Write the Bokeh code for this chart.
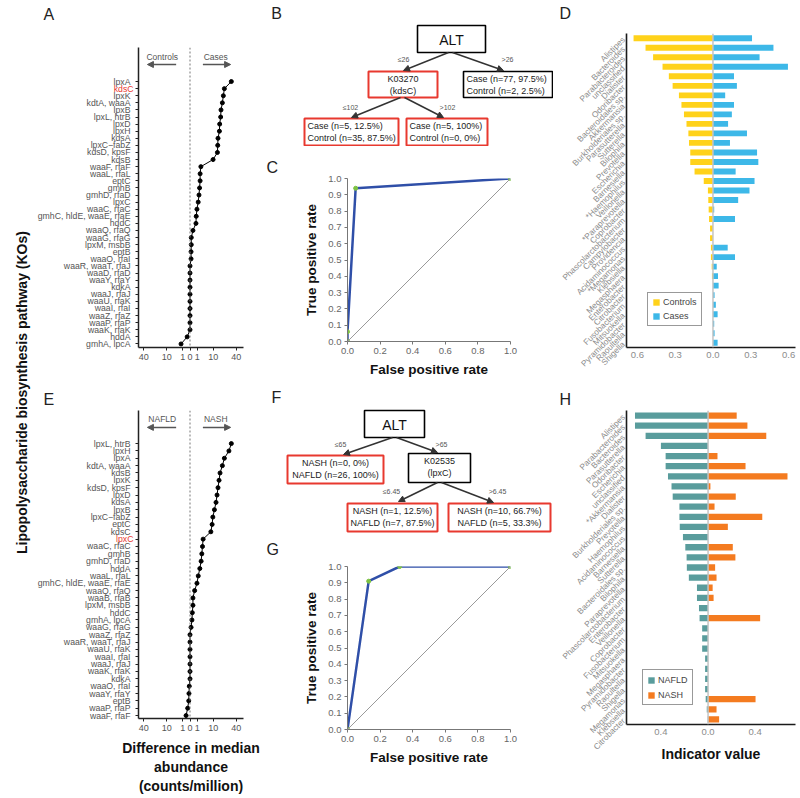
import numpy as np
from bokeh.plotting import figure
from bokeh.models import (Range1d, FixedTicker, CustomJSTickFormatter, NumeralTickFormatter,
                          Span, Label, Arrow, NormalHead, Legend, LegendItem, Slope, LinearAxis,
                          Title)
from bokeh.layouts import row, column
from bokeh.core.properties import value
from bokeh.embed import file_html
from bokeh.resources import INLINE

FONT = "Liberation Sans"
RED = "#E8392F"

# ------------------------------------------------------------------ data
A_kos = ["lpxA", "kdsC", "lpxK", "kdtA, waaA", "lpxB", "lpxL, htrB", "lpxD", "lpxH", "kdsA",
         "lpxC\u2212fabZ", "kdsD, kpsF", "kdsB", "waaF, rfaF", "waaL, rfaL", "eptC", "gmhB",
         "gmhD, rfaD", "lpxC", "waaC, rfaC", "gmhC, hldE, waaE, rfaE", "hddC", "waaQ, rfaQ",
         "waaG, rfaG", "lpxM, msbB", "eptB", "waaO, rfaI", "waaR, waaT, rfaJ", "waaD, rfaD",
         "waaY, rfaY", "kdkA", "waaJ, rfaJ", "waaU, rfaK", "waaI, rfaI", "waaZ, rfaZ",
         "waaP, rfaP", "waaK, rfaK", "hddA", "gmhA, lpcA"]
A_diff = [31.8, 22.0, 20.7, 19.5, 17.9, 17.5, 16.4, 16.1, 14.6, 14.3, 14.0, 9.9, 2.2, 1.9, 1.9,
          1.7, 1.5, 1.25, 0.9, 0.72, 0.66, 0.16, 0.03, 0.03, 0.02, 0.02, 0, 0, 0, 0, 0, 0, 0,
          0, 0, 0, -0.15, -1.5]
A_highlight = "kdsC"
A_groups = ["Controls", "Cases"]

E_kos = ["lpxL, htrB", "lpxH", "lpxA", "kdtA, waaA", "kdsB", "lpxK", "kdsD, kpsF", "lpxD", "kdsA",
         "lpxB", "lpxC\u2212fabZ", "eptC", "kdsC", "lpxC", "waaC, rfaC", "gmhB", "gmhD, rfaD",
         "hddA", "waaL, rfaL", "gmhC, hldE, waaE, rfaE", "waaQ, rfaQ", "waaB, rfaB",
         "lpxM, msbB", "hddC", "gmhA, lpcA", "waaG, rfaG", "waaZ, rfaZ", "waaR, waaT, rfaJ",
         "waaU, rfaK", "waaI, rfaI", "waaJ, rfaJ", "waaK, rfaK", "kdkA", "waaO, rfaI",
         "waaY, rfaY", "eptB", "waaP, rfaP", "waaF, rfaF"]
E_diff = [31.8, 28.2, 22.0, 19.5, 16.8, 15.7, 14.6, 13.6, 12.6, 11.1, 9.7, 9.1, 8.1, 3.2, 2.9,
          2.6, 2.3, 1.8, 1.26, 0.9, 0.4, 0.16, 0.16, 0.1, 0.07, 0.02, 0, 0, 0, 0, 0, 0, 0,
          -0.01, -0.02, -0.03, -0.1, -0.29]
E_highlight = "lpxC"
E_groups = ["NAFLD", "NASH"]

abund_tick_values = [-40, -10, -1, 0, 1, 10, 40]
abund_title = "Difference in median\nabundance\n(counts/million)"
ko_title = "Lipopolysaccharide biosynthesis pathway (KOs)"

D_genera = ["Alistipes", "Bacteroides", "Parabacteroides", "unclassified", "Dialister",
            "Odoribacter", "Bacteroidales sp.", "Akkermansia", "Burkholderiales sp.",
            "Parasutterella", "Sutterella", "Bilophila", "Prevotella", "Escherichia",
            "Barnesiella", "*Haemophilus", "Veillonella", "*Paraprevotella", "Coprobacter",
            "Phascolarctobacterium", "Campylobacter", "Providencia", "Acidaminococcus",
            "*Megamonas", "Klebsiella", "Megasphaera", "Enterobacter", "Citrobacter",
            "Fusobacterium", "Mitsuokella", "Pyramidobacter", "Raoultella", "Shigella"]
D_controls = [0.63, 0.535, 0.475, 0.40, 0.35, 0.32, 0.27, 0.25, 0.23, 0.21, 0.195, 0.19, 0.18,
              0.18, 0.146, 0.073, 0.04, 0.037, 0.034, 0.031, 0.023, 0.023, 0.016, 0.016, 0.01,
              0.008, 0, 0, 0, 0, 0, 0, 0]
D_cases = [0.31, 0.48, 0.37, 0.595, 0.167, 0.19, 0.097, 0.167, 0.15, 0.12, 0.27, 0.135, 0.35,
           0.36, 0.18, 0.33, 0.29, 0.2, 0.01, 0.175, 0, 0, 0.117, 0.175, 0.03, 0.04, 0.045,
           0.013, 0.023, 0.037, 0.01, 0.013, 0.037]

H_genera = ["Alistipes", "Parabacteroides", "Bacteroides", "Parasutterella", "Odoribacter",
            "Escherichia", "unclassified", "*Akkermansia", "Dialister", "Burkholderiales sp.",
            "Prevotella", "Haemophilus", "Acidaminococcus", "Barnesiella", "Sutterella",
            "Bacteroidales sp.", "Bilophila", "Paraprevotella", "Phascolarctobacterium",
            "Enterobacter", "Veillonella", "Coprobacter", "Fusobacterium", "Mitsuokella",
            "Megasphaera", "Pyramidobacter", "Raoultella", "Shigella", "Megamonas",
            "Klebsiella", "Citrobacter"]
H_nafld = [0.62, 0.62, 0.53, 0.40, 0.36, 0.36, 0.34, 0.31, 0.30, 0.243, 0.243, 0.24, 0.213,
           0.193, 0.182, 0.18, 0.163, 0.094, 0.094, 0.077, 0.072, 0.05, 0.05, 0.05, 0.025,
           0.025, 0.025, 0.025, 0.02, 0.011, 0.003]
H_nash = [0.243, 0.334, 0.494, 0, 0.08, 0.318, 0.674, 0.02, 0.235, 0.055, 0.46, 0.168, 0,
          0.21, 0.232, 0.06, 0.072, 0.039, 0.047, 0, 0.442, 0, 0, 0, 0, 0, 0, 0, 0.403,
          0.072, 0.094]

C_fpr = [0.0, 0.0, 0.05, 1.0]
C_tpr = [0.0, 0.06, 0.94, 1.0]
G_fpr = [0.0, 0.13, 0.32, 1.0]
G_tpr = [0.0, 0.91, 1.0, 1.0]

B_node_text = [["ALT"], ["K03270", "(kdsC)"], ["Case (n=77, 97.5%)", "Control (n=2, 2.5%)"],
               ["Case (n=5, 12.5%)", "Control (n=35, 87.5%)"],
               ["Case (n=5, 100%)", "Control (n=0, 0%)"]]
B_edge_text = ["\u226426", ">26", "\u2264102", ">102"]
F_node_text = [["ALT"], ["NASH (n=0, 0%)", "NAFLD (n=26, 100%)"], ["K02535", "(lpxC)"],
               ["NASH (n=1, 12.5%)", "NAFLD (n=7, 87.5%)"],
               ["NASH (n=10, 66.7%)", "NAFLD (n=5, 33.3%)"]]
F_edge_text = ["\u226465", ">65", "\u22646.45", ">6.45"]

# ------------------------------------------------------------------ layout (page px)
GEOM = {
    "T": dict(canvas=(0, 0, 34, 796)),
    "A": dict(canvas=(34, 0, 264, 375), frame=(137, 47, 243, 347)),
    "E": dict(canvas=(34, 375, 264, 796), frame=(137, 410, 243, 720)),
    "B": dict(canvas=(264, 0, 553, 146)),
    "C": dict(canvas=(264, 146, 553, 385), frame=(347, 178, 510, 341)),
    "F": dict(canvas=(264, 385, 553, 535)),
    "G": dict(canvas=(264, 535, 553, 796), frame=(347, 566, 510, 729)),
    "D": dict(canvas=(553, 0, 800, 375), frame=(623, 33, 795, 347)),
    "H": dict(canvas=(553, 375, 800, 796), frame=(623, 410, 795, 724)),
}
LETTERS = {"A": (47, 13), "B": (276, 13), "C": (276, 165), "D": (563, 12),
           "E": (47, 397), "F": (276, 397), "G": (276, 548), "H": (563, 397)}
# title-based letters: (horizontal correction, title standoff, spacer standoff)
LETTER_TUNE = {"A": (-5, 0, 22), "E": (-5, 6, None), "C": (-10, 6, None),
               "G": (-10, 0, 6), "D": (-7, 0, 9), "H": (-7, 6, None)}

B_LAYOUT = dict(
    boxes=[(417, 25, 485, 52, "black", "center"), (368, 71, 437, 97, RED, "center"),
           (463, 71, 552, 97, "black", "left"), (304, 118, 398, 145, RED, "left"),
           (406, 118, 487, 145, RED, "left")],
    edges=[(448, 52, 403, 70, 403, 59), (452, 52, 503, 70, 507, 59),
           (400, 97, 351, 117, 350, 107), (404, 97, 443, 117, 447, 107)])
F_LAYOUT = dict(
    boxes=[(364, 410, 424, 437, "black", "center"), (287, 455, 383, 483, RED, "center"),
           (408, 453, 470, 482, "black", "center"), (347, 503, 437, 531, RED, "center"),
           (448, 503, 550, 531, RED, "center")],
    edges=[(392, 437, 343, 454, 340, 444), (396, 437, 437, 452, 441, 444),
           (437, 482, 398, 501, 391, 491), (441, 482, 493, 502, 497, 491)])


def make_fig(key, xr, yr, axes=True, letter=None):
    g = GEOM[key]
    cl, ct, cr, cb = g["canvas"]
    fl, ft, fr, fb = g.get("frame", g["canvas"])
    kw = {} if axes else dict(x_axis_type=None, y_axis_type=None)
    p = figure(width=cr - cl, height=cb - ct, x_range=Range1d(*xr), y_range=Range1d(*yr),
               min_border_left=fl - cl, min_border_right=cr - fr, min_border_top=ft - ct,
               min_border_bottom=cb - fb, output_backend="svg", toolbar_location=None,
               frame_align=False, **kw)
    p.outline_line_color = None
    p.grid.visible = False
    p.background_fill_color = "white"
    p.border_fill_color = "white"
    if letter is not None:
        lx, ly = LETTERS[letter]
        dx, standoff, gap = LETTER_TUNE[letter]
        p.title.text = letter
        p.title.align = "left"
        p.title.offset = lx + dx - fl
        p.title.standoff = standoff
        p.title.text_font = FONT
        p.title.text_font_size = "16px"
        p.title.text_font_style = "normal"
        p.title.text_color = "#222222"
        if gap is not None:
            p.add_layout(Title(text=" ", text_font_size="1px", standoff=gap), "above")
    return p


def to_data(key, xr, yr, px, py):
    fl, ft, fr, fb = GEOM[key].get("frame", GEOM[key]["canvas"])
    x = xr[0] + (px - fl) / (fr - fl) * (xr[1] - xr[0])
    y = yr[0] + (fb - py) / (fb - ft) * (yr[1] - yr[0])
    return x, y


# ------------------------------------------------------------------ title column
pT = make_fig("T", (0, 34), (796, 0), axes=False)
pT.text(x=[21], y=[392], text=[ko_title], angle=np.pi / 2, text_font=value(FONT),
        text_font_size=value("14px"), text_font_style="bold", text_align="center",
        text_baseline="middle", text_color="#111111")


# ------------------------------------------------------------------ A / E
LABEL_PX = {"kdsC": 20, "lpxC": 17}


def ko_panel(key, letter, kos, diff, highlight, groups, xr, yr, xlabel):
    p = make_fig(key, xr, yr, letter=letter)
    xs = np.sign(diff) * np.sqrt(np.abs(diff))
    ys = np.arange(len(kos))
    p.add_layout(Span(location=0, dimension="height", line_dash="2 2", line_color="#777777",
                      line_width=1))
    p.line(xs, ys, line_color="black", line_width=1)
    p.scatter(xs, ys, size=4, color="black")

    ticks = FixedTicker(ticks=list(range(len(kos))))
    ya = p.yaxis[0]
    ya.ticker = ticks
    ya.major_label_overrides = {i: (k if k == highlight else "") for i, k in enumerate(kos)}
    ya.major_label_text_font = FONT
    ya.major_label_text_font_size = "8.7px"
    ya.major_label_text_color = RED
    ya.major_label_standoff = 2
    ya.major_tick_out = 3
    ya.major_tick_in = 0
    ya.minor_tick_line_color = None
    ya.axis_line_color = "#222222"
    ya.axis_line_width = 1.5
    ya.major_tick_line_color = "#222222"
    ya2 = LinearAxis(ticker=ticks,
                     major_label_overrides={i: (" " if k == highlight else k)
                                            for i, k in enumerate(kos)})
    ya2.major_label_text_font = FONT
    ya2.major_label_text_font_size = "8.7px"
    ya2.major_label_text_color = "#555555"
    ya2.major_label_standoff = -LABEL_PX[highlight]
    ya2.major_tick_out = 0
    ya2.major_tick_in = 0
    ya2.major_tick_line_color = None
    ya2.minor_tick_line_color = None
    ya2.axis_line_color = None
    p.add_layout(ya2, "left")

    xa = p.xaxis[0]
    tv = np.array(abund_tick_values, dtype=float)
    xa.ticker = FixedTicker(ticks=list(np.sign(tv) * np.sqrt(np.abs(tv))))
    xa.formatter = CustomJSTickFormatter(code="return String(Math.round(tick*tick));")
    xa.major_label_text_font = FONT
    xa.major_label_text_font_size = "9px"
    xa.major_label_text_color = "#555555"
    xa.major_label_standoff = 3
    xa.major_tick_out = 3
    xa.major_tick_in = 0
    xa.minor_tick_line_color = None
    xa.axis_line_color = "#222222"
    xa.axis_line_width = 1.5
    xa.major_tick_line_color = "#222222"
    if xlabel:
        xa.axis_label = xlabel
        xa.axis_label_text_font = FONT
        xa.axis_label_text_font_size = "14px"
        xa.axis_label_text_font_style = "bold"
        xa.axis_label_text_color = "#111111"
        xa.axis_label_standoff = 6

    fl, ft, fr, fb = GEOM[key]["frame"]
    ty = ft + 9
    ay = ft + 17
    for txt, tx, (x0, x1) in [(groups[0], fl + 24, (fl + 38, fl + 9)),
                              (groups[1], fl + 78, (fl + 65, fl + 93))]:
        lx, ly = to_data(key, xr, yr, tx, ty)
        p.add_layout(Label(x=lx, y=ly, text=txt, text_font=FONT, text_font_size="8.5px",
                           text_color="#555555", text_align="center", text_baseline="middle"))
        sx, sy = to_data(key, xr, yr, x0, ay)
        ex, _ = to_data(key, xr, yr, x1, ay)
        p.add_layout(Arrow(end=NormalHead(size=6, fill_color="#555555", line_color="#555555",
                                          line_width=1),
                           x_start=sx, y_start=sy, x_end=ex, y_end=sy,
                           line_color="#555555", line_width=1.5))
    return p


pA = ko_panel("A", "A", A_kos, A_diff, A_highlight, A_groups, (-7.03, 7.3), (37.5, -4.8), None)
pE = ko_panel("E", "E", E_kos, E_diff, E_highlight, E_groups, (-7.03, 7.3), (37.4, -4.5),
              abund_title)


# ------------------------------------------------------------------ trees
def tree_panel(key, letter, node_text, edge_text, lay):
    cl, ct, cr, cb = GEOM[key]["canvas"]
    p = make_fig(key, (cl, cr), (cb, ct), axes=False)
    lx, ly = LETTERS[letter]
    p.text(x=[lx], y=[ly], text=[letter], text_font=value(FONT), text_font_size=value("16px"),
           text_align="center", text_baseline="middle", text_color="#222222")
    for (l, t, r, b, col, align), lines in zip(lay["boxes"], node_text):
        p.quad(left=[l], right=[r], top=[t], bottom=[b], fill_color=None, line_color=col,
               line_width=2 if col == RED else 1.6)
        if len(lines) == 1:
            p.text(x=[(l + r) / 2], y=[(t + b) / 2 + 0.5], text=lines, text_font=value(FONT),
                   text_font_size=value("14px"), text_align="center", text_baseline="middle",
                   text_color="#111111")
        else:
            xs = (l + r) / 2 if align == "center" else l + 3
            p.text(x=[xs, xs], y=[t + 7.5, t + 19.5], text=lines, text_font=value(FONT),
                   text_font_size=value("9px"), text_align=align, text_baseline="middle",
                   text_color="#222222")
    for (x0, y0, x1, y1, tx, ty), lab in zip(lay["edges"], edge_text):
        p.add_layout(Arrow(end=NormalHead(size=6, fill_color="#333333", line_color="#333333",
                                          line_width=1),
                           x_start=x0, y_start=y0, x_end=x1, y_end=y1,
                           line_color="#333333", line_width=1.5))
        p.text(x=[tx], y=[ty], text=[lab], text_font=value(FONT), text_font_size=value("7px"),
               text_align="center", text_baseline="middle", text_color="#555555")
    return p


pB = tree_panel("B", "B", B_node_text, B_edge_text, B_LAYOUT)
pF = tree_panel("F", "F", F_node_text, F_edge_text, F_LAYOUT)


# ------------------------------------------------------------------ ROC
def roc_panel(key, letter, fpr, tpr):
    xr, yr = (0, 1), (0, 1)
    p = make_fig(key, xr, yr, letter=letter)
    p.add_layout(Slope(gradient=1, y_intercept=0, line_color="#9a9a9a", line_width=1))
    p.line(fpr, tpr, line_color="#2F4FA8", line_width=2.5)
    p.scatter(fpr, tpr, size=4, color="#7DC242")
    p.xaxis.ticker = FixedTicker(ticks=[0, 0.2, 0.4, 0.6, 0.8, 1.0])
    p.yaxis.ticker = FixedTicker(ticks=[i / 10 for i in range(11)])
    for ax in (p.xaxis[0], p.yaxis[0]):
        ax.formatter = NumeralTickFormatter(format="0.0")
        ax.major_label_text_font = FONT
        ax.major_label_text_font_size = "9.5px"
        ax.major_label_text_color = "#666666"
        ax.major_label_standoff = 3
        ax.major_tick_out = 3
        ax.major_tick_in = 0
        ax.minor_tick_line_color = None
        ax.axis_line_color = "#777777"
        ax.major_tick_line_color = "#777777"
        ax.axis_label_text_font = FONT
        ax.axis_label_text_font_size = "13.5px"
        ax.axis_label_text_font_style = "bold"
        ax.axis_label_text_color = "#111111"
    p.xaxis.axis_label = "False positive rate"
    p.yaxis.axis_label = "True positive rate"
    p.xaxis.axis_label_standoff = 5
    p.yaxis.axis_label_standoff = 6
    return p


pC = roc_panel("C", "C", C_fpr, C_tpr)
pG = roc_panel("G", "G", G_fpr, G_tpr)


# ------------------------------------------------------------------ indicator panels
def indicator_panel(key, letter, genera, left_vals, right_vals, names, colors, xr, ticks,
                    legend_loc, legend_h, xlabel):
    n = len(genera)
    yr = (n - 0.5, -0.5)
    p = make_fig(key, xr, yr, letter=letter)
    ys = np.arange(n)
    r1 = p.hbar(y=ys, left=-np.array(left_vals), right=0, height=0.62, fill_color=colors[0],
                line_color=None)
    r2 = p.hbar(y=ys, left=0, right=np.array(right_vals), height=0.62, fill_color=colors[1],
                line_color=None)
    p.add_layout(Span(location=0, dimension="height", line_color="#C4C4C4", line_width=1.5))

    ya = p.yaxis[0]
    ya.ticker = FixedTicker(ticks=list(range(n)))
    ya.major_label_overrides = {i: g for i, g in enumerate(genera)}
    ya.major_label_orientation = np.pi / 4
    ya.major_label_text_font = FONT
    ya.major_label_text_font_size = "8.3px"
    ya.major_label_text_color = "#8C8C8C"
    ya.major_label_standoff = 3
    ya.major_tick_out = 0
    ya.major_tick_in = 0
    ya.major_tick_line_color = None
    ya.minor_tick_line_color = None
    ya.axis_line_color = "#1a1a1a"
    ya.axis_line_width = 1.6

    xa = p.xaxis[0]
    xa.ticker = FixedTicker(ticks=ticks)
    xa.formatter = CustomJSTickFormatter(code="return Math.abs(tick).toFixed(1);")
    xa.major_label_text_font = FONT
    xa.major_label_text_font_size = "9.5px"
    xa.major_label_text_color = "#8C8C8C"
    xa.major_label_standoff = 4
    xa.major_tick_out = 0
    xa.major_tick_in = 0
    xa.major_tick_line_color = None
    xa.minor_tick_line_color = None
    xa.axis_line_color = "#1a1a1a"
    xa.axis_line_width = 1.6
    if xlabel:
        xa.axis_label = xlabel
        xa.axis_label_text_font = FONT
        xa.axis_label_text_font_size = "14px"
        xa.axis_label_text_font_style = "bold"
        xa.axis_label_text_color = "#111111"
        xa.axis_label_standoff = 8

    leg = Legend(items=[LegendItem(label=names[0], renderers=[r1]),
                        LegendItem(label=names[1], renderers=[r2])],
                 location=legend_loc)
    leg.label_text_font = FONT
    leg.label_text_font_size = "9px"
    leg.label_text_color = "#444444"
    leg.glyph_width = 8
    leg.glyph_height = 8
    leg.label_height = legend_h
    leg.label_width = 10
    leg.label_standoff = 3
    leg.padding = 4
    leg.spacing = 4
    leg.margin = 0
    leg.border_line_color = "#333333"
    leg.border_line_width = 1.5
    leg.background_fill_color = "white"
    leg.background_fill_alpha = 1
    p.add_layout(leg)
    return p


pD = indicator_panel("D", "D", D_genera, D_controls, D_cases, ["Controls", "Cases"],
                     ["#FFD21A", "#3DB8E8"], (-0.686, 0.655), [-0.6, -0.3, 0, 0.3, 0.6],
                     (21, 21), 10, None)
pH = indicator_panel("H", "H", H_genera, H_nafld, H_nash, ["NAFLD", "NASH"],
                     ["#599C9C", "#F47B20"], (-0.692, 0.742), [-0.4, 0, 0.4],
                     (16, 19), 11, "Indicator value")

layout = row(pT, column(pA, pE), column(pB, pC, pF, pG), column(pD, pH))
open("out.html", "w").write(file_html(layout, INLINE))
